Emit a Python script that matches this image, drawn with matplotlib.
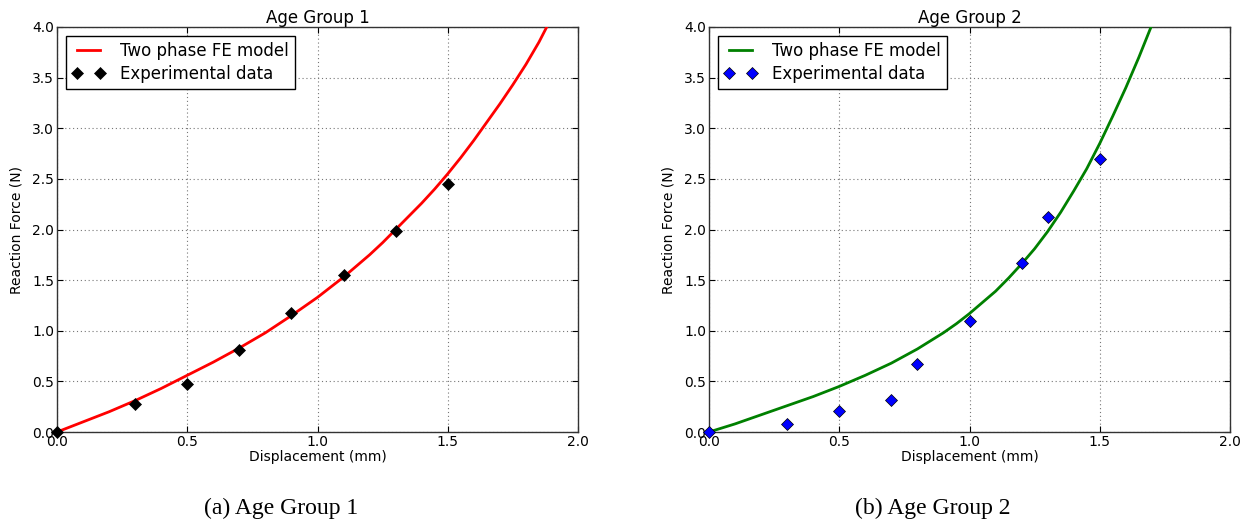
import matplotlib
matplotlib.use("Agg")
import matplotlib.pyplot as plt

# Age group 1
fe1_x = [0, 0.05, 0.1, 0.15, 0.2, 0.25, 0.3, 0.35, 0.4, 0.45, 0.5, 0.55, 0.6, 0.65, 0.7, 0.75,
         0.8, 0.85, 0.9, 0.95, 1.0, 1.05, 1.1, 1.15, 1.2, 1.25, 1.3, 1.35, 1.4, 1.45, 1.5, 1.55,
         1.6, 1.65, 1.7, 1.75, 1.8, 1.85, 1.88]
fe1_y = [0, 0.05, 0.10, 0.15, 0.20, 0.255, 0.31, 0.37, 0.43, 0.495, 0.56, 0.625, 0.69, 0.76, 0.83, 0.905,
         0.98, 1.065, 1.15, 1.24, 1.33, 1.43, 1.53, 1.64, 1.75, 1.87, 2.00, 2.13, 2.26, 2.40, 2.55, 2.71,
         2.88, 3.06, 3.24, 3.43, 3.63, 3.85, 4.0]
exp1_x = [0, 0.3, 0.5, 0.7, 0.9, 1.1, 1.3, 1.5]
exp1_y = [0, 0.28, 0.47, 0.81, 1.18, 1.55, 1.99, 2.45]

# Age group 2
fe2_x = [0, 0.05, 0.1, 0.15, 0.2, 0.25, 0.3, 0.35, 0.4, 0.45, 0.5, 0.55, 0.6, 0.65, 0.7, 0.75,
         0.8, 0.85, 0.9, 0.95, 1.0, 1.05, 1.1, 1.15, 1.2, 1.25, 1.3, 1.35, 1.4, 1.45, 1.5, 1.55,
         1.6, 1.65, 1.7]
fe2_y = [0, 0.04, 0.08, 0.125, 0.17, 0.215, 0.26, 0.305, 0.35, 0.40, 0.45, 0.505, 0.56, 0.62, 0.68, 0.75,
         0.82, 0.90, 0.98, 1.07, 1.17, 1.28, 1.39, 1.52, 1.66, 1.81, 1.98, 2.17, 2.38, 2.60, 2.85, 3.12,
         3.40, 3.70, 4.02]
exp2_x = [0, 0.3, 0.5, 0.7, 0.8, 1.0, 1.2, 1.3, 1.5]
exp2_y = [0, 0.08, 0.21, 0.32, 0.67, 1.10, 1.67, 2.12, 2.70]

titles = ["Age Group 1", "Age Group 2"]
captions = ["(a) Age Group 1", "(b) Age Group 2"]
xticks = [0.0, 0.5, 1.0, 1.5, 2.0]
yticks = [0.0, 0.5, 1.0, 1.5, 2.0, 2.5, 3.0, 3.5, 4.0]

fig = plt.figure(figsize=(12.48, 5.24), dpi=100)
lefts = [57 / 1248, 709 / 1248]
w = 521 / 1248
b = 1 - 432 / 524
h = 405 / 524
cap_x = [281 / 1248, 933 / 1248]

data = [
    (fe1_x, fe1_y, exp1_x, exp1_y, "red", "black"),
    (fe2_x, fe2_y, exp2_x, exp2_y, "green", "blue"),
]

for i, (fx, fy, ex, ey, lc, mc) in enumerate(data):
    ax = fig.add_axes([lefts[i], b, w, h])
    ax.plot(fx, fy, color=lc, lw=2, label="Two phase FE model", zorder=3)
    ax.plot(ex, ey, ls="none", marker="D", ms=6, color=mc, mec="black", mew=0.5,
            label="Experimental data", zorder=4, clip_on=False)
    ax.set_xlim(0, 2.0)
    ax.set_ylim(0, 4.0)
    ax.set_xticks(xticks)
    ax.set_yticks(yticks)
    ax.set_xticklabels([f"{v:.1f}" for v in xticks])
    ax.set_yticklabels([f"{v:.1f}" for v in yticks])
    ax.tick_params(direction="in", top=True, right=True, labelsize=10, pad=2, length=4)
    ax.grid(True, ls=(0, (1, 2.5)), color="#777777", lw=0.8)
    ax.set_axisbelow(True)
    for s in ax.spines.values():
        s.set_color("#333333")
        s.set_linewidth(1.0)
    ax.set_title(titles[i], fontsize=12, pad=3)
    ax.set_xlabel("Displacement (mm)", fontsize=10, labelpad=1)
    ax.set_ylabel("Reaction Force (N)", fontsize=10, labelpad=6)
    leg = ax.legend(loc="upper left", numpoints=2, fontsize=12, fancybox=False,
                    edgecolor="black", framealpha=1, borderaxespad=0.55,
                    handlelength=2.0, handletextpad=0.9, borderpad=0.35,
                    labelspacing=0.3)
    leg.get_frame().set_linewidth(1.0)
    fig.text(cap_x[i], 1 - 508 / 524, captions[i],
             ha="center", va="center", fontsize=17, family="Liberation Serif")

fig.savefig("out.png", dpi=100)
